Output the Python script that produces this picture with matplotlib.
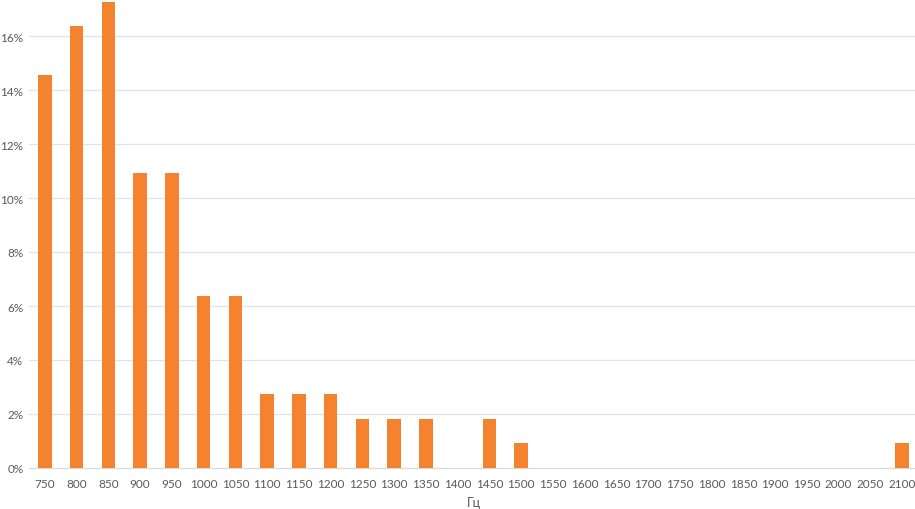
import matplotlib.pyplot as plt
from matplotlib.ticker import PercentFormatter

# Частоты (Гц) и доля наблюдений (%)
freqs = list(range(750, 2101, 50))
shares = [14.55, 16.36, 17.27, 10.91, 10.91, 6.36, 6.36, 2.73, 2.73, 2.73,
          1.82, 1.82, 1.82, 0.0, 1.82, 0.91,
          0, 0, 0, 0, 0, 0, 0, 0, 0, 0, 0, 0.91]
labels = [str(f) for f in freqs]

plt.rcParams["font.family"] = ["Lato", "DejaVu Sans"]

W, H = 915, 510
fig = plt.figure(figsize=(W / 100, H / 100), dpi=100)
ax = fig.add_axes([29 / W, 41 / H, 889 / W, 469 / H])

x = range(len(freqs))
ax.bar(x, shares, width=0.42, color="#F5822F", zorder=3)

ax.set_xlim(-0.5, len(freqs) - 0.5)
ax.set_ylim(0, 469 / 27)
ax.set_yticks(range(0, 17, 2))
ax.yaxis.set_major_formatter(PercentFormatter(decimals=0))
ax.set_xticks(list(x))
ax.set_xticklabels(labels)

ax.grid(axis="y", color="#E3E3E3", linewidth=0.9, zorder=0)
for s in ["top", "right", "left"]:
    ax.spines[s].set_visible(False)
ax.spines["bottom"].set_color("#D9D9D9")
ax.tick_params(axis="both", length=0, colors="#595959", labelsize=8.5)
ax.tick_params(axis="x", pad=7)
ax.tick_params(axis="y", pad=4)

ax.set_xlabel("Гц", color="#595959", fontsize=9, labelpad=5)

fig.savefig("out.png", dpi=100)
